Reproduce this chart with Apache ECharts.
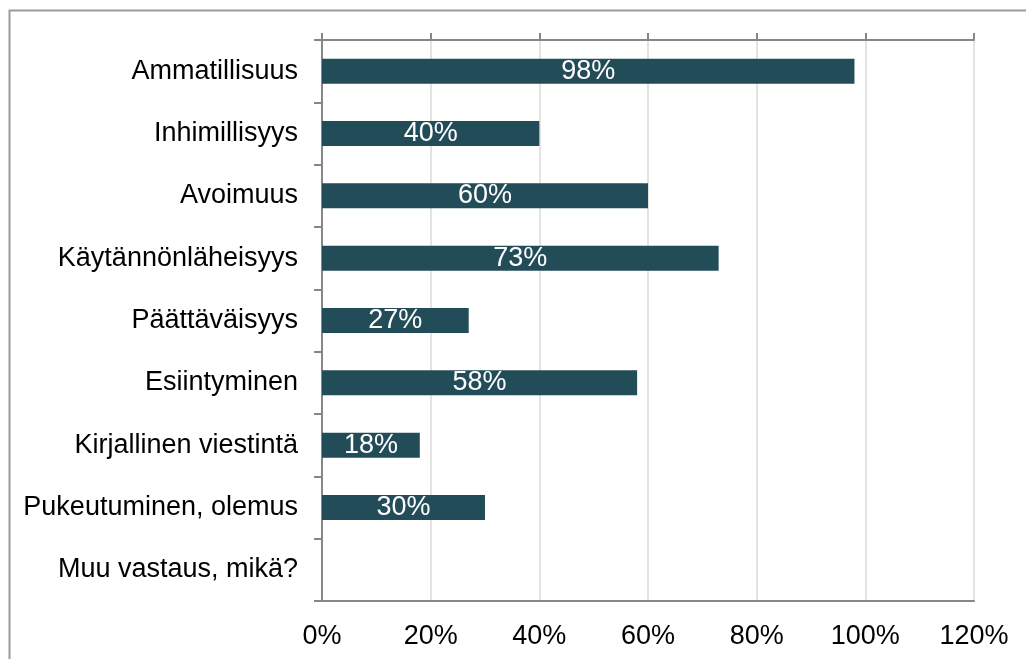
<!DOCTYPE html>
<html>
<head>
<meta charset="utf-8">
<script src="https://cdn.jsdelivr.net/npm/echarts@6/dist/echarts.min.js"></script>
<style>
  html, body { margin: 0; padding: 0; background: #fff; }
  #chart { width: 1026px; height: 659px; }
</style>
</head>
<body>
<div id="chart"></div>
<script>
// Survey: which qualities matter (share of respondents)
const categories = [
  'Ammatillisuus',
  'Inhimillisyys',
  'Avoimuus',
  'Käytännönläheisyys',
  'Päättäväisyys',
  'Esiintyminen',
  'Kirjallinen viestintä',
  'Pukeutuminen, olemus',
  'Muu vastaus, mikä?'
];
const shares = [98, 40, 60, 73, 27, 58, 18, 30, 0];
const axisMin = 0;
const axisMax = 120;
const axisStep = 20;

const FONT = '"Liberation Sans", Arial, sans-serif';
const FONT_SIZE = 27;
const AXIS_GREY = '#878787';
const GRID_GREY = '#e3e3e3';
const BAR_COLOR = '#234c59';

const chart = echarts.init(document.getElementById('chart'), null, { renderer: 'canvas' });

chart.setOption({
  animation: false,
  backgroundColor: '#ffffff',
  textStyle: { fontFamily: FONT },
  graphic: [{
    type: 'rect',
    shape: { x: 9.5, y: 10.5, width: 1200, height: 800 },
    style: { fill: 'none', stroke: '#9a9a9a', lineWidth: 2 },
    silent: true,
    z: 0
  }],
  grid: { left: 322, right: 52, top: 40, bottom: 58, containLabel: false },
  xAxis: [
    {
      type: 'value',
      position: 'bottom',
      min: axisMin, max: axisMax, interval: axisStep,
      axisLine: { show: true, lineStyle: { color: AXIS_GREY, width: 2 } },
      axisTick: { show: false },
      axisLabel: { formatter: '{value}%', color: '#000', fontSize: FONT_SIZE, fontFamily: FONT, margin: 22 },
      splitLine: { show: true, lineStyle: { color: GRID_GREY, width: 2 } }
    },
    {
      type: 'value',
      position: 'top',
      min: axisMin, max: axisMax, interval: axisStep,
      axisLine: { show: true, lineStyle: { color: AXIS_GREY, width: 2 } },
      axisTick: { show: true, length: 7, lineStyle: { color: AXIS_GREY, width: 2 } },
      axisLabel: { show: false },
      splitLine: { show: false }
    }
  ],
  yAxis: [
    {
      type: 'category',
      position: 'left',
      data: categories,
      inverse: true,
      axisLine: { show: true, lineStyle: { color: AXIS_GREY, width: 2 } },
      axisTick: { show: true, length: 8, lineStyle: { color: AXIS_GREY, width: 2 } },
      axisLabel: { color: '#000', fontSize: FONT_SIZE, fontFamily: FONT, margin: 24 },
      splitLine: { show: false }
    },
    {
      type: 'category',
      position: 'right',
      data: categories,
      inverse: true,
      axisLine: { show: true, lineStyle: { color: AXIS_GREY, width: 2 } },
      axisTick: { show: false },
      axisLabel: { show: false },
      splitLine: { show: false }
    }
  ],
  series: [{
    type: 'bar',
    xAxisIndex: 0,
    yAxisIndex: 0,
    data: shares,
    barWidth: 25,
    itemStyle: { color: BAR_COLOR },
    label: {
      show: true,
      position: 'inside',
      color: '#ffffff',
      fontSize: FONT_SIZE,
      fontFamily: FONT,
      formatter: p => (p.value > 0 ? p.value + '%' : '')
    }
  }]
});
</script>
</body>
</html>
